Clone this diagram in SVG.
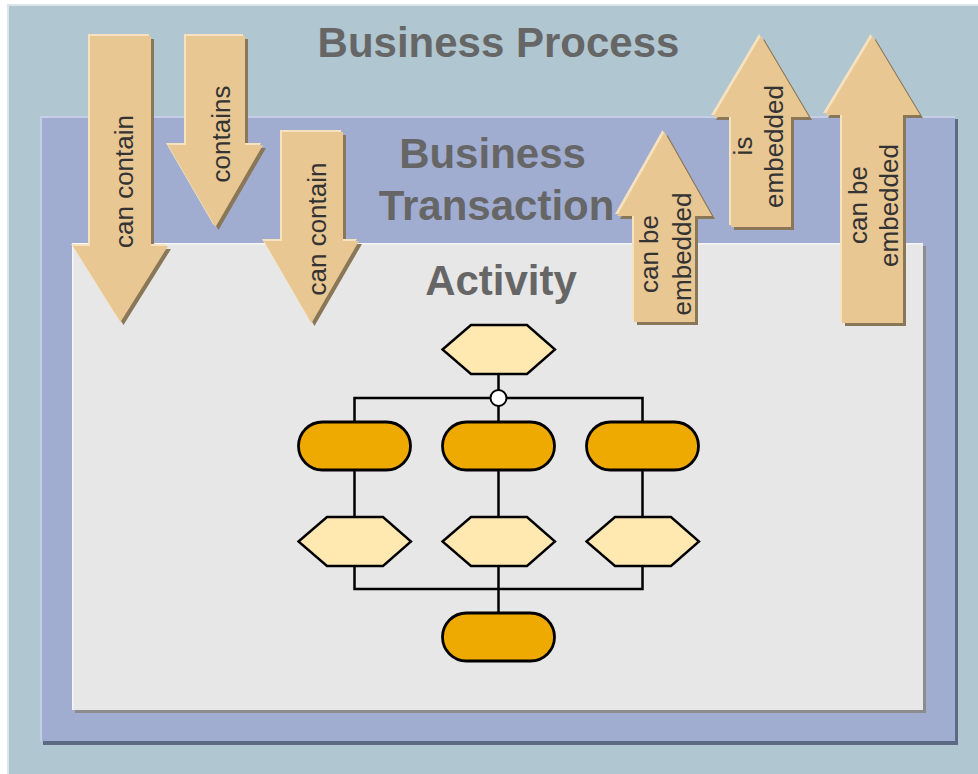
<svg xmlns="http://www.w3.org/2000/svg" xmlns:xlink="http://www.w3.org/1999/xlink" width="978" height="774" viewBox="0 0 978 774">
<style>
.title{font-family:"Liberation Sans",Arial,sans-serif;font-weight:bold;font-size:42px;fill:#666666;text-anchor:middle}
.lbl{font-family:"Liberation Sans",Arial,sans-serif;font-size:26px;fill:#333333;text-anchor:middle}
.ash{fill:#8a7757}
.ahi{fill:#f6e2bf}
.amain{fill:#e8c793}
.hex{fill:#ffe9b0;stroke:#000;stroke-width:2.4}
.fn{fill:#eeaa00;stroke:#000;stroke-width:2.8}
.ln{fill:none;stroke:#000;stroke-width:2.5}
</style>
<defs>
<polygon id="a1" points="90,36 151,36 151,246 168,246 120.5,322 73,246 90,246"/>
<polygon id="a2" points="186,36 245,36 245,145 263,145 215.5,227 168,145 186,145"/>
<polygon id="a3" points="282,132 343,132 343,241 359,241 311.5,323 264,241 282,241"/>
<polygon id="a4" points="664.5,132 712,216 695,216 695,322 634,322 634,216 617,216"/>
<polygon id="a5" points="761,36 809,117 791,117 791,227 731,227 731,117 713,117"/>
<polygon id="a6" points="872.5,36 920,115 903,115 903,323 842,323 842,115 825,115"/>
<polygon id="hx" points="-56,0 -27.5,-24.5 28.5,-24.5 56.5,0 28.5,24.5 -27.5,24.5"/>
</defs>
<rect x="0" y="0" width="978" height="774" fill="#ffffff"/>
<g id="business-process">
<rect x="7" y="4" width="971" height="770" fill="#dce5ea"/>
<rect x="9" y="6" width="969" height="768" fill="#b0c6d0"/>
<text class="title" x="498.5" y="57">Business Process</text>
</g>
<g id="business-transaction">
<rect x="43" y="119" width="915" height="626" fill="#5e6984"/>
<rect x="40" y="116" width="915" height="625" fill="#c6cde6"/>
<rect x="42" y="118" width="913" height="623" fill="#a0acd0"/>
<text class="title" x="492.5" y="168">Business</text>
<text class="title" x="496.5" y="220">Transaction</text>
</g>
<g id="activity">
<rect x="75" y="246" width="851" height="467" fill="#8c8c8c"/>
<rect x="72" y="243" width="851" height="467" fill="#f7f7f7"/>
<rect x="73.5" y="244.5" width="849.5" height="465.5" fill="#e7e7e7"/>
<text class="title" x="501" y="295">Activity</text>
</g>
<g id="connectors">
<line class="ln" x1="498.5" y1="374" x2="498.5" y2="390"/>
<polyline class="ln" points="354.5,422 354.5,398 490.5,398"/>
<polyline class="ln" points="506.5,398 642.5,398 642.5,422"/>
<line class="ln" x1="498.5" y1="406" x2="498.5" y2="422"/>
<line class="ln" x1="354.5" y1="470" x2="354.5" y2="517"/>
<line class="ln" x1="498.5" y1="470" x2="498.5" y2="517"/>
<line class="ln" x1="642.5" y1="470" x2="642.5" y2="517"/>
<polyline class="ln" points="354.5,566 354.5,589 642.5,589 642.5,566"/>
<line class="ln" x1="498.5" y1="566" x2="498.5" y2="613"/>
</g>
<g id="event-top"><use href="#hx" class="hex" transform="translate(498.5,349.5)"/></g>
<g id="split"><circle cx="498.5" cy="398" r="8" fill="#ffffff" stroke="#000" stroke-width="2"/></g>
<g id="func-left"><rect class="fn" x="298.5" y="422" width="112" height="48" rx="24"/></g>
<g id="func-mid"><rect class="fn" x="442.5" y="422" width="112" height="48" rx="24"/></g>
<g id="func-right"><rect class="fn" x="586.5" y="422" width="112" height="48" rx="24"/></g>
<g id="event-left"><use href="#hx" class="hex" transform="translate(354.5,541.5)"/></g>
<g id="event-mid"><use href="#hx" class="hex" transform="translate(498.5,541.5)"/></g>
<g id="event-right"><use href="#hx" class="hex" transform="translate(642.5,541.5)"/></g>
<g id="func-bottom"><rect class="fn" x="442.5" y="613" width="112" height="48" rx="24"/></g>
<g id="arrow-can-contain-1">
<use href="#a1" class="ash" transform="translate(3,3)"/>
<use href="#a1" class="ahi" transform="translate(-2,-2)"/>
<use href="#a1" class="amain"/>
<text class="lbl" transform="translate(133,181.5) rotate(-90)">can contain</text>
</g>
<g id="arrow-contains">
<use href="#a2" class="ash" transform="translate(3,3)"/>
<use href="#a2" class="ahi" transform="translate(-2,-2)"/>
<use href="#a2" class="amain"/>
<text class="lbl" transform="translate(230,134) rotate(-90)">contains</text>
</g>
<g id="arrow-can-contain-2">
<use href="#a3" class="ash" transform="translate(3,3)"/>
<use href="#a3" class="ahi" transform="translate(-2,-2)"/>
<use href="#a3" class="amain"/>
<text class="lbl" transform="translate(326,229) rotate(-90)">can contain</text>
</g>
<g id="arrow-can-be-embedded-1">
<use href="#a4" class="ash" transform="translate(3,3)"/>
<use href="#a4" class="ahi" transform="translate(-2,-2)"/>
<use href="#a4" class="amain"/>
<text class="lbl" transform="translate(658,254) rotate(-90)">can be</text>
<text class="lbl" transform="translate(691,254) rotate(-90)">embedded</text>
</g>
<g id="arrow-is-embedded">
<use href="#a5" class="ash" transform="translate(3,3)"/>
<use href="#a5" class="ahi" transform="translate(-2,-2)"/>
<use href="#a5" class="amain"/>
<text class="lbl" transform="translate(752,146) rotate(-90)">is</text>
<text class="lbl" transform="translate(783,146.5) rotate(-90)">embedded</text>
</g>
<g id="arrow-can-be-embedded-2">
<use href="#a6" class="ash" transform="translate(3,3)"/>
<use href="#a6" class="ahi" transform="translate(-2,-2)"/>
<use href="#a6" class="amain"/>
<text class="lbl" transform="translate(867,205) rotate(-90)">can be</text>
<text class="lbl" transform="translate(898,205.5) rotate(-90)">embedded</text>
</g>
</svg>
